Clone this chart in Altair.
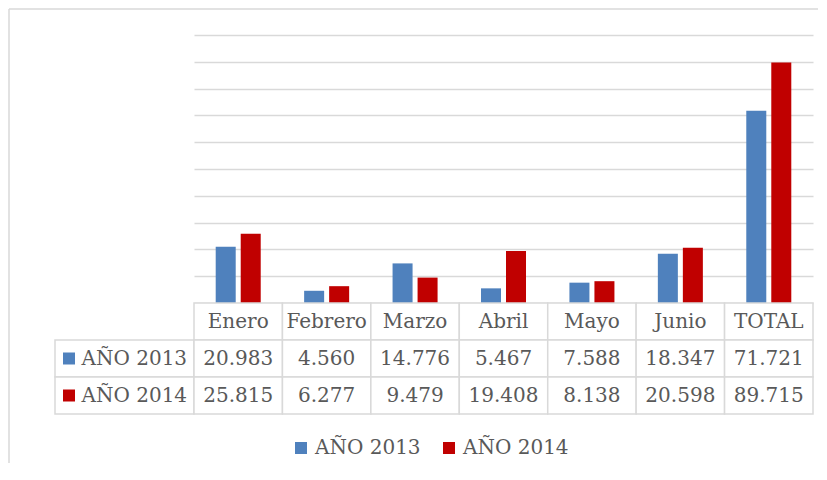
import altair as alt
import pandas as pd

# ---- data ----
months = ["Enero", "Febrero", "Marzo", "Abril", "Mayo", "Junio", "TOTAL"]
years = ["AÑO 2013", "AÑO 2014"]
values_2013 = [20983, 4560, 14776, 5467, 7588, 18347, 71721]
values_2014 = [25815, 6277, 9479, 19408, 8138, 20598, 89715]
grid_values = list(range(0, 100001, 10000))

# ---- styles ----
COLORS = ["#4F81BD", "#C00000"]
FONT = "DejaVu Serif"
TXT = "#595959"
GRID = "#D9D9D9"
W = 619          # plot / table width
H1 = 295         # bar panel height
HT = 111         # table height
LW = 186         # left column width
YMAX = 110075
NO_VIEW = alt.ViewBackground(stroke="transparent", strokeWidth=0, fill="transparent")


def fmt(v):
    return f"{v:,}".replace(",", ".")


rows = []
for m, a, b in zip(months, values_2013, values_2014):
    rows.append({"mes": m, "year": years[0], "valor": a})
    rows.append({"mes": m, "year": years[1], "valor": b})
bars_df = pd.DataFrame(rows)
bars_df["texto"] = bars_df["valor"].map(fmt)

row_order = ["Mes"] + years
header_df = pd.DataFrame({"mes": months, "fila": "Mes", "texto": months})
table_df = pd.concat(
    [header_df, bars_df.rename(columns={"year": "fila"})[["mes", "fila", "texto"]]],
    ignore_index=True,
)
label_df = pd.DataFrame({"fila": years, "texto": years})

color_scale = alt.Scale(domain=years, range=COLORS)
legend = alt.Legend(
    title=None, orient="none", legendX=283, legendY=430, direction="horizontal",
    columns=2, symbolType="square", symbolSize=144, symbolStrokeWidth=0,
    labelFont=FONT, labelFontSize=20, labelColor=TXT, labelOffset=4,
    columnPadding=18, labelLimit=300,
)

# ---- bars ----
bars = alt.Chart(bars_df).mark_bar().encode(
    x=alt.X("mes:N", sort=months,
            scale=alt.Scale(domain=months, paddingInner=0, paddingOuter=0), axis=None),
    xOffset=alt.XOffset("year:N", sort=years,
                        scale=alt.Scale(domain=years, paddingInner=0.2, paddingOuter=0.868)),
    y=alt.Y("valor:Q", scale=alt.Scale(domain=[0, YMAX], nice=False),
            axis=alt.Axis(values=grid_values, grid=True, gridColor=GRID, gridWidth=1.5,
                          labels=False, ticks=False, domain=False, title=None)),
    color=alt.Color("year:N", scale=color_scale, legend=legend),
).properties(width=W, height=H1, view=NO_VIEW)

# ---- top-left spacer carrying the outer frame ----
frame_df = pd.DataFrame({"k": [0]})
frame = alt.layer(
    alt.Chart(frame_df).mark_rule(color=GRID, strokeWidth=1.5).encode(
        x=alt.value(1), y=alt.value(1), y2=alt.value(455)),
    alt.Chart(frame_df).mark_rule(color=GRID, strokeWidth=1.5).encode(
        x=alt.value(1), x2=alt.value(810), y=alt.value(1)),
).properties(width=LW, height=H1, view=NO_VIEW)

# ---- data table ----
ty = alt.Y("fila:N", sort=row_order,
           scale=alt.Scale(domain=row_order, paddingInner=0, paddingOuter=0), axis=None)
tx = alt.X("mes:N", sort=months,
           scale=alt.Scale(domain=months, paddingInner=0, paddingOuter=0), axis=None)

cells = alt.Chart(table_df).mark_rect(fill="white", stroke=GRID, strokeWidth=1.5).encode(
    x=tx, y=ty)
cell_text = alt.Chart(table_df).mark_text(font=FONT, fontSize=20, color=TXT).encode(
    x=tx, y=ty, text="texto:N")
table = alt.layer(cells, cell_text).properties(width=W, height=HT, view=NO_VIEW)

label_cells = alt.Chart(label_df).mark_rect(fill="white", stroke=GRID, strokeWidth=1.5).encode(
    x=alt.value(47), x2=alt.value(LW), y=ty)
label_squares = alt.Chart(label_df).mark_point(
    shape="square", filled=True, size=144, opacity=1).encode(
    x=alt.value(61), y=ty, color=alt.Color("fila:N", scale=color_scale, legend=legend))
label_text = alt.Chart(label_df).mark_text(
    font=FONT, fontSize=20, color=TXT, align="left").encode(
    x=alt.value(73.5), y=ty, text="texto:N")
labels = alt.layer(label_cells, label_squares, label_text).properties(
    width=LW, height=HT, view=NO_VIEW)

chart = (
    alt.concat(frame, bars, labels, table, columns=2, spacing=0,
               bounds="flush", align="each")
    .properties(padding=0)
    .configure_view(stroke="transparent", strokeWidth=0)
    .configure(font=FONT)
)

chart.save("out.html", embed_options={"renderer": "svg", "actions": False})
